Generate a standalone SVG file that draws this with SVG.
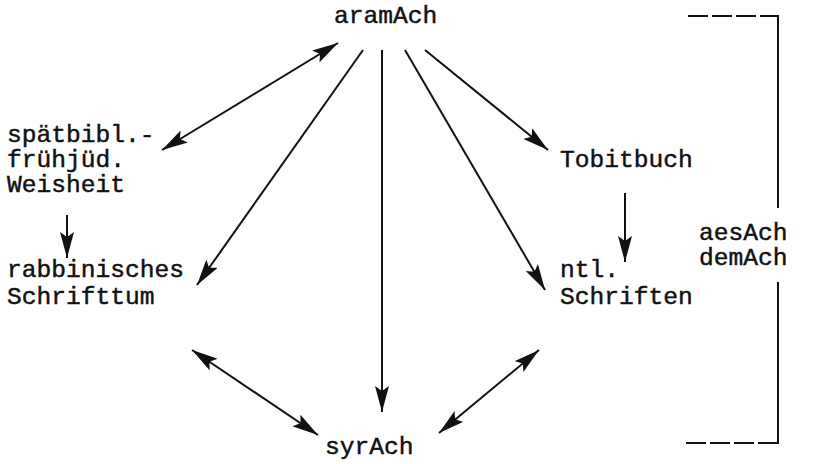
<svg xmlns="http://www.w3.org/2000/svg" width="835" height="464" viewBox="0 0 835 464">
<defs>
<style>
text{font-family:"Liberation Mono","Courier New",monospace;font-size:24.6px;fill:#111;stroke:#111;stroke-width:0.45;}
.c{stroke:#111;stroke-width:2;fill:none;}
.d{stroke:#111;stroke-width:2;fill:none;stroke-dasharray:20 4;}
</style>
<marker id="ah" viewBox="0 0 26 14" refX="26" refY="7" markerWidth="26" markerHeight="14" markerUnits="userSpaceOnUse" orient="auto-start-reverse">
<path d="M0,0 L26,7 L0,14 L5,7 Z" fill="#111"/>
</marker>
</defs>
<rect width="835" height="464" fill="#fff"/>
<g id="aramAch"><text x="334" y="23">aramAch</text></g>
<g id="weisheit"><text x="7" y="142">spätbibl.-</text><text x="7" y="167">frühjüd.</text><text x="7" y="192">Weisheit</text></g>
<g id="tobit"><text x="560" y="167">Tobitbuch</text></g>
<g id="rabb"><text x="7" y="277">rabbinisches</text><text x="7" y="304">Schrifttum</text></g>
<g id="ntl"><text x="560" y="277">ntl.</text><text x="560" y="304">Schriften</text></g>
<g id="syrAch"><text x="325" y="454">syrAch</text></g>
<g id="aes"><text x="699" y="240">aesAch</text><text x="699" y="265">demAch</text></g>
<g id="bracket">
<path class="d" d="M688,16 H778"/>
<path class="c" d="M778,15 V208"/>
<path class="c" d="M778,282 V444"/>
<path class="d" d="M686,443 H778"/>
</g>
<g id="connectors">
<path class="c" d="M338,43 L162,150" marker-start="url(#ah)" marker-end="url(#ah)"/>
<path class="c" d="M363,50 L197,285" marker-end="url(#ah)"/>
<path class="c" d="M382,50 L382,412" marker-end="url(#ah)"/>
<path class="c" d="M405,50 L545,290" marker-end="url(#ah)"/>
<path class="c" d="M425,50 L548,150" marker-end="url(#ah)"/>
<path class="c" d="M625,193 L625,262" marker-end="url(#ah)"/>
<path class="c" d="M67,215 L67,258" marker-end="url(#ah)"/>
<path class="c" d="M192,350 L318,435" marker-start="url(#ah)" marker-end="url(#ah)"/>
<path class="c" d="M539,350 L439,433" marker-start="url(#ah)" marker-end="url(#ah)"/>
</g>
</svg>
